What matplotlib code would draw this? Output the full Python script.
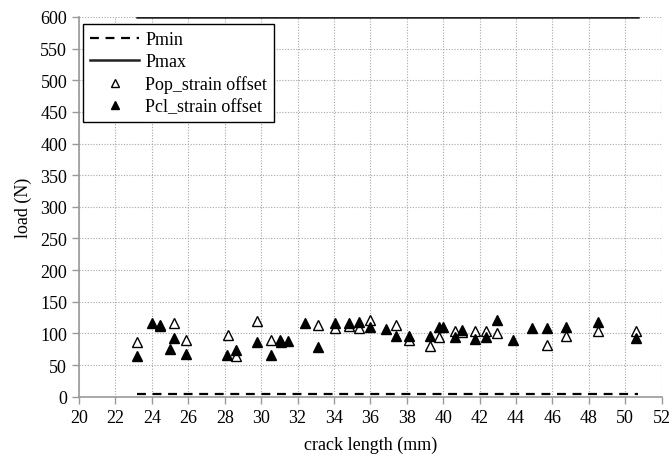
import matplotlib
matplotlib.use("Agg")
import matplotlib.pyplot as plt

plt.rcParams['font.family'] = ['Liberation Serif', 'DejaVu Serif']

# Pmin / Pmax reference lines
line_x = [23.2, 50.7]
pmin = [5, 5]
pmax = [600, 600]

# Pop_strain offset (open triangles)
pop_x = [23.2, 24.47, 25.2, 25.85, 28.17, 28.6, 29.76, 30.57,
         33.13, 34.08, 34.81, 35.36, 36.0, 37.43, 38.1, 39.26, 39.75,
         40.67, 41.03, 41.73, 42.33, 42.98, 45.7, 46.77, 48.5, 50.6]
pop_y = [87, 112, 117, 90, 97, 65, 119, 89,
         113, 108, 112, 109, 121, 113, 89, 80, 95,
         104, 103, 104, 104, 101, 81, 96, 104, 104]

# Pcl_strain offset (filled triangles)
pcl_x = [23.2, 24.0, 24.47, 25.0, 25.2, 25.85, 28.14, 28.6, 29.76, 30.57,
         31.03, 31.1, 31.45, 32.4, 33.13, 34.08, 34.81, 35.36, 36.0, 36.88,
         37.43, 38.1, 39.26, 39.75, 40.0, 40.67, 41.03, 41.73, 42.33, 42.98,
         43.84, 44.85, 45.7, 46.77, 48.5, 50.6]
pcl_y = [64, 116, 114, 76, 92, 68, 66, 74, 86, 66,
         89, 86, 88, 117, 79, 117, 117, 118, 110, 107,
         96, 96, 96, 110, 110, 94, 105, 91, 94, 121,
         90, 109, 109, 110, 118, 93]

fig = plt.figure(figsize=(6.72, 4.6), dpi=100)
ax = fig.add_axes([0.1176, 0.1354, 0.8671, 0.8255])

ax.plot(line_x, pmin, color='black', linestyle=(0, (4, 3)), linewidth=1.6, label='Pmin')
ax.plot(line_x, pmax, color='#222222', linestyle='-', linewidth=1.8, label='Pmax')
ax.plot(pop_x, pop_y, linestyle='none', marker='^', markersize=7.5,
        markerfacecolor='white', markeredgecolor='black', markeredgewidth=1.0,
        label='Pop_strain offset')
ax.plot(pcl_x, pcl_y, linestyle='none', marker='^', markersize=7.5,
        markerfacecolor='black', markeredgecolor='black',
        label='Pcl_strain offset')

ax.set_xlim(20, 52)
ax.set_ylim(0, 600)
ax.set_xticks(range(20, 53, 2))
ax.set_yticks(range(0, 601, 50))
ax.grid(True, color='#a6a6a6', linestyle=(0, (1, 1.5)), linewidth=0.8)
ax.set_axisbelow(True)

for side in ['top', 'right']:
    ax.spines[side].set_visible(False)
for side in ['left', 'bottom']:
    ax.spines[side].set_color('#999999')
    ax.spines[side].set_linewidth(1.2)
ax.tick_params(axis='both', colors='#999999', labelcolor='black', labelsize=13,
               length=5, width=1)

ax.set_xlabel('crack length (mm)', fontsize=13, labelpad=7)
ax.set_ylabel('load (N)', fontsize=13, labelpad=6)

leg = ax.legend(loc='upper left', bbox_to_anchor=(0.007, 0.982), fontsize=13,
                fancybox=False, framealpha=1, edgecolor='black',
                handlelength=2.7, borderpad=0.4, labelspacing=0.28,
                handletextpad=0.35, borderaxespad=0, markerscale=0.75)
leg.get_frame().set_linewidth(1.0)

fig.savefig('out.png', dpi=100)
